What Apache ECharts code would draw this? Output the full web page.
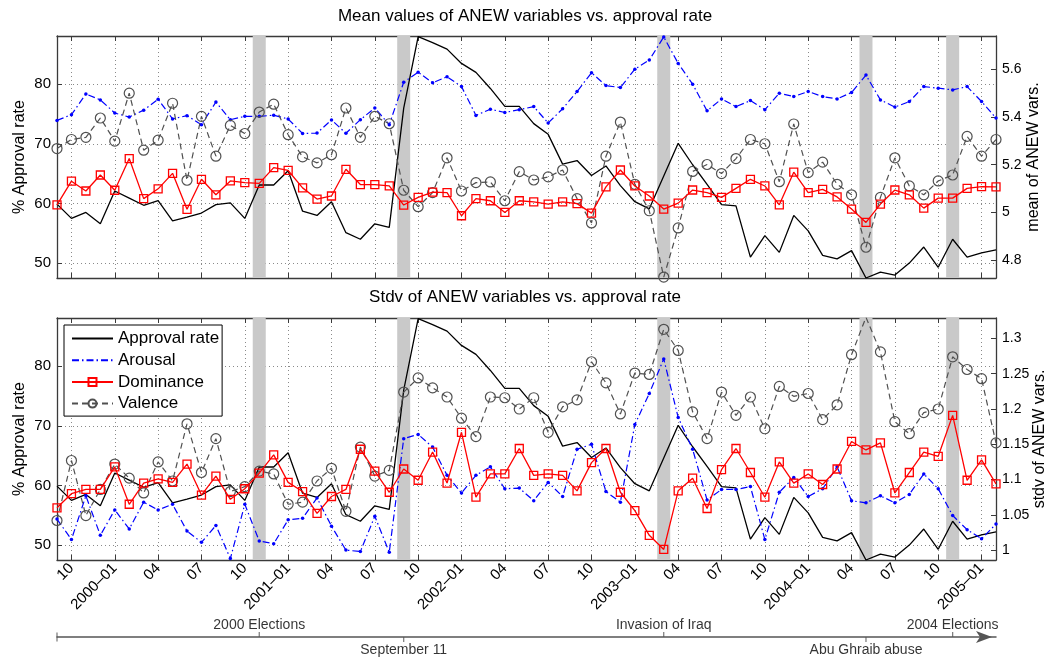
<!DOCTYPE html>
<html><head><meta charset="utf-8">
<script src="https://cdn.jsdelivr.net/npm/echarts@6/dist/echarts.min.js"></script>
<style>html,body{margin:0;padding:0;background:#fff}#c{width:1050px;height:657px}</style>
</head><body><div id="c"></div>
<script>
const months = [
 '1999-09','1999-10','1999-11','1999-12',
 '2000-01','2000-02','2000-03','2000-04','2000-05','2000-06','2000-07','2000-08','2000-09','2000-10','2000-11','2000-12',
 '2001-01','2001-02','2001-03','2001-04','2001-05','2001-06','2001-07','2001-08','2001-09','2001-10','2001-11','2001-12',
 '2002-01','2002-02','2002-03','2002-04','2002-05','2002-06','2002-07','2002-08','2002-09','2002-10','2002-11','2002-12',
 '2003-01','2003-02','2003-03','2003-04','2003-05','2003-06','2003-07','2003-08','2003-09','2003-10','2003-11','2003-12',
 '2004-01','2004-02','2004-03','2004-04','2004-05','2004-06','2004-07','2004-08','2004-09','2004-10','2004-11','2004-12',
 '2005-01','2005-02'];

const approval = [59.9,57.5,58.5,56.6,62.1,60.9,59.7,60.5,57.1,57.7,58.4,59.8,60.1,57.5,63.1,63.1,65.5,58.7,58.0,60.3,
 55.1,54.0,56.6,56.0,76.0,88.0,87.0,85.9,83.5,82.0,79.3,76.3,76.3,73.4,71.6,66.6,67.2,64.7,66.3,63.0,
 60.3,59.1,64.6,70.1,66.5,63.2,59.8,59.6,51.0,54.6,51.8,58.0,55.4,51.3,50.7,52.1,47.5,48.5,48.0,50.0,
 52.7,49.3,54.0,51.0,51.7,52.2];

const arousalMean = [5.386,5.410,5.497,5.472,5.417,5.400,5.429,5.475,5.392,5.406,5.368,5.463,5.389,5.403,5.403,5.408,5.392,5.331,5.333,5.388,
 5.332,5.389,5.438,5.368,5.546,5.588,5.544,5.569,5.528,5.407,5.433,5.419,5.431,5.444,5.375,5.435,5.507,5.586,5.532,5.524,
 5.601,5.639,5.736,5.625,5.538,5.426,5.476,5.444,5.469,5.431,5.500,5.486,5.507,5.486,5.476,5.503,5.576,5.472,5.442,5.465,
 5.528,5.521,5.514,5.528,5.465,5.396];

const dominanceMean = [5.032,5.131,5.090,5.157,5.093,5.226,5.058,5.099,5.164,5.013,5.139,5.074,5.132,5.125,5.122,5.188,5.176,5.103,5.056,5.069,
 5.181,5.117,5.117,5.111,5.031,5.063,5.085,5.083,4.986,5.058,5.049,5.000,5.049,5.044,5.035,5.044,5.037,4.997,5.107,5.178,
 5.111,5.069,5.014,5.039,5.094,5.083,5.063,5.101,5.139,5.111,5.032,5.169,5.083,5.097,5.065,5.014,4.958,5.035,5.094,5.074,
 5.018,5.060,5.060,5.101,5.108,5.107];

const valenceMean = [5.268,5.306,5.315,5.396,5.299,5.500,5.261,5.303,5.458,5.135,5.403,5.236,5.365,5.331,5.421,5.454,5.326,5.233,5.208,5.242,
 5.438,5.315,5.403,5.372,5.093,5.024,5.083,5.229,5.090,5.125,5.128,5.049,5.171,5.136,5.149,5.178,5.058,4.956,5.236,5.379,
 5.118,5.007,4.729,4.935,5.172,5.201,5.163,5.226,5.306,5.288,5.129,5.371,5.167,5.211,5.118,5.074,4.854,5.063,5.229,5.111,
 5.074,5.132,5.157,5.319,5.236,5.306];

const arousalStd = [1.044,1.015,1.077,1.021,1.057,1.030,1.068,1.057,1.065,1.027,1.011,1.035,0.988,1.065,1.013,1.009,1.043,1.045,1.074,1.034,
 1.000,0.998,1.048,0.997,1.158,1.164,1.146,1.106,1.081,1.106,1.118,1.087,1.088,1.070,1.096,1.076,1.143,1.150,1.083,1.068,
 1.178,1.222,1.271,1.188,1.143,1.071,1.086,1.086,1.090,1.015,1.082,1.103,1.076,1.087,1.118,1.070,1.067,1.077,1.067,1.079,
 1.108,1.087,1.049,1.029,1.016,1.037];

const dominanceStd = [1.060,1.080,1.086,1.086,1.118,1.065,1.095,1.101,1.096,1.122,1.078,1.105,1.072,1.087,1.109,1.135,1.096,1.083,1.052,1.076,
 1.086,1.143,1.112,1.082,1.115,1.099,1.139,1.095,1.167,1.075,1.108,1.108,1.144,1.106,1.108,1.106,1.084,1.124,1.144,1.082,
 1.056,1.021,1.001,1.084,1.102,1.059,1.114,1.144,1.110,1.075,1.125,1.095,1.108,1.093,1.115,1.154,1.142,1.152,1.081,1.110,
 1.139,1.133,1.191,1.099,1.128,1.094];

const valenceStd = [1.042,1.127,1.049,1.086,1.122,1.102,1.081,1.125,1.098,1.179,1.110,1.158,1.083,1.090,1.112,1.108,1.065,1.068,1.098,1.116,
 1.055,1.146,1.105,1.113,1.224,1.244,1.230,1.217,1.187,1.161,1.217,1.216,1.200,1.216,1.167,1.203,1.213,1.267,1.237,1.193,
 1.251,1.249,1.313,1.283,1.196,1.158,1.224,1.191,1.217,1.172,1.232,1.218,1.222,1.185,1.206,1.277,1.330,1.281,1.182,1.165,
 1.195,1.200,1.274,1.256,1.243,1.152];

const events = ['2000-11','2001-09','2003-03','2004-05','2004-11'];
const eventLabels = ['2000 Elections','September 11','Invasion of Iraq','Abu Ghraib abuse','2004 Elections'];
const eventSide = ['top','bottom','top','bottom','top'];
const tickMonths = ['01','04','07','10'];

const FONT = '"Liberation Sans", Arial, sans-serif';
const AX = '#3a3a3a';
const GRIDC = '#8a8a8a';
const isTick = (i, v) => tickMonths.includes(String(v).slice(5));
const bandData = months.map(m => events.includes(m) ? 1 : '-');

function xPair(gridIndex, showLabels) {
  return [
    { type:'category', gridIndex, data: months, boundaryGap:false, position:'bottom',
      axisLine:{onZero:false, lineStyle:{color:AX, width:1.3}},
      axisTick:{inside:true, length:5, interval:isTick, lineStyle:{color:AX, width:1}},
      axisLabel:{show:showLabels, interval:isTick, rotate:45, fontSize:15, fontFamily:FONT, color:'#000', margin:6,
        formatter: v => v.slice(5)==='01' ? v.slice(0,4)+'\u201301' : v.slice(5)},
      splitLine:{show:true, interval:isTick, lineStyle:{color:GRIDC, type:[1,3], width:1}} },
    { type:'category', gridIndex, data: months, boundaryGap:false, position:'top',
      axisLine:{onZero:false, lineStyle:{color:AX, width:1.3}},
      axisTick:{inside:true, length:5, interval:isTick, lineStyle:{color:AX, width:1}},
      axisLabel:{show:false}, splitLine:{show:false} }
  ];
}
function yLeft(gridIndex) {
  return { type:'value', gridIndex, position:'left', min:47.5, max:88.1, splitNumber:4,
    axisLine:{show:true, onZero:false, lineStyle:{color:AX, width:1.3}},
    axisTick:{show:true, inside:true, length:5, lineStyle:{color:AX}},
    axisLabel:{fontSize:15, fontFamily:FONT, color:'#000', margin:6, showMinLabel:false, showMaxLabel:false},
    splitLine:{show:true, lineStyle:{color:GRIDC, type:[1,3], width:1}},
    name:'% Approval rate', nameLocation:'middle', nameGap:29, nameMoveOverlap:false,
    nameTextStyle:{fontSize:16, fontFamily:FONT, color:'#000'} };
}
function yRight(gridIndex, min, max, split, name, gap) {
  return { type:'value', gridIndex, position:'right', min, max, splitNumber:split,
    axisLine:{show:true, onZero:false, lineStyle:{color:AX, width:1.3}},
    axisTick:{show:true, inside:true, length:5, lineStyle:{color:AX}},
    axisLabel:{fontSize:14, fontFamily:FONT, color:'#000', margin:6, showMinLabel:false, showMaxLabel:false},
    splitLine:{show:false},
    name, nameLocation:'middle', nameGap:gap, nameMoveOverlap:false,
    nameTextStyle:{fontSize:16, fontFamily:FONT, color:'#000'} };
}
function yHidden(gridIndex) {
  return { type:'value', gridIndex, min:0, max:1, show:false, splitLine:{show:false} };
}

function mkSeries(xi, yl, yr, yh, aro, dom, val) {
  return [
    { type:'bar', xAxisIndex:xi, yAxisIndex:yh, data:bandData, barWidth:13, z:1,
      itemStyle:{color:'#c9c9c9'}, silent:true, legendHoverLink:false },
    { name:'Approval rate', type:'line', xAxisIndex:xi, yAxisIndex:yl, data:approval, z:3,
      symbol:'none', lineStyle:{color:'#000', width:1.3}, itemStyle:{color:'#000'} },
    { name:'Arousal', type:'line', xAxisIndex:xi, yAxisIndex:yr, data:aro, z:3,
      symbol:'circle', symbolSize:3.5, showAllSymbol:true,
      lineStyle:{color:'#0000ff', width:1.2, type:[7,3,1.5,3]}, itemStyle:{color:'#0000ff'} },
    { name:'Dominance', type:'line', xAxisIndex:xi, yAxisIndex:yr, data:dom, z:4,
      symbol:'rect', symbolSize:8, showAllSymbol:true, lineStyle:{color:'#ff0000', width:1.3},
      itemStyle:{color:'rgba(255,255,255,0)', borderColor:'#ff0000', borderWidth:1.3} },
    { name:'Valence', type:'line', xAxisIndex:xi, yAxisIndex:yr, data:val, z:3,
      symbol:'circle', symbolSize:10, showAllSymbol:true, lineStyle:{color:'#505050', width:1.2, type:[6,4]},
      itemStyle:{color:'rgba(255,255,255,0)', borderColor:'#505050', borderWidth:1.2} }
  ];
}

const evTop = [], evBottom = [];
events.forEach((m, k) => {
  const item = { value:[m, 0], name: eventLabels[k] };
  (eventSide[k] === 'top' ? evTop : evBottom).push(item);
});

const option = {
  animation:false,
  backgroundColor:'#fff',
  title:[
    { text:'Mean values of ANEW variables vs. approval rate', left:'center', top:3,
      textStyle:{fontSize:17, fontWeight:'normal', fontFamily:FONT, color:'#000'} },
    { text:'Stdv of ANEW variables vs. approval rate', left:'center', top:284,
      textStyle:{fontSize:17, fontWeight:'normal', fontFamily:FONT, color:'#000'} }
  ],
  legend:{ data:[
      {name:'Approval rate', itemStyle:{color:'rgba(0,0,0,0)', borderWidth:0, opacity:0}},
      {name:'Arousal', itemStyle:{color:'rgba(0,0,0,0)', borderWidth:0, opacity:0}},
      {name:'Dominance'},
      {name:'Valence'}],
    orient:'vertical', left:64, top:325,
    backgroundColor:'#fff', borderColor:'#000', borderWidth:1, borderRadius:0, padding:[5,3,4,7],
    itemGap:4.7, itemWidth:41, itemHeight:10, z:10,
    textStyle:{fontSize:17, fontFamily:FONT, color:'#000', lineHeight:17} },
  grid:[
    { left:57, right:54, top:36, height:242, outerBoundsMode:'none', containLabel:false },
    { left:57, right:54, top:318, height:242, outerBoundsMode:'none', containLabel:false },
    { left:57, right:54, top:632, height:10, outerBoundsMode:'none', containLabel:false }
  ],
  xAxis:[
    ...xPair(0, false),
    ...xPair(1, true),
    { type:'category', gridIndex:2, data:months, boundaryGap:false,
      axisLine:{onZero:true, symbol:['none','arrow'], symbolSize:[9,16], symbolOffset:[0,-4],
        lineStyle:{color:'#555', width:1.5}},
      axisTick:{show:false}, axisLabel:{show:false}, splitLine:{show:false} }
  ],
  yAxis:[
    yLeft(0), yRight(0, 4.725, 5.74, 5, 'mean of ANEW vars.', 30), yHidden(0),
    yLeft(1), yRight(1, 0.986, 1.329, 7, 'stdv of ANEW vars.', 36), yHidden(1),
    { type:'value', gridIndex:2, min:-1, max:1, show:false, splitLine:{show:false} }
  ],
  series:[
    ...mkSeries(0, 0, 1, 2, arousalMean, dominanceMean, valenceMean),
    ...mkSeries(2, 3, 4, 5, arousalStd, dominanceStd, valenceStd),
    { type:'scatter', xAxisIndex:4, yAxisIndex:6, data:evTop, symbol:'rect', symbolSize:[1.2,5],
      symbolOffset:[0,-2.5], itemStyle:{color:'#555'}, silent:true,
      label:{show:true, position:'top', distance:0, formatter:'{b}', fontSize:14, fontFamily:FONT, color:'#000'} },
    { type:'scatter', xAxisIndex:4, yAxisIndex:6, data:evBottom, symbol:'rect', symbolSize:[1.2,5],
      symbolOffset:[0,2.5], itemStyle:{color:'#555'}, silent:true,
      label:{show:true, position:'bottom', distance:1, formatter:'{b}', fontSize:14, fontFamily:FONT, color:'#000'} },
    { type:'scatter', xAxisIndex:4, yAxisIndex:6, data:[[months[0], 0]], symbol:'rect', symbolSize:[1.2,9],
      itemStyle:{color:'#555'}, silent:true }
  ]
};
echarts.init(document.getElementById('c'), null, {renderer:'canvas'}).setOption(option);
</script></body></html>
